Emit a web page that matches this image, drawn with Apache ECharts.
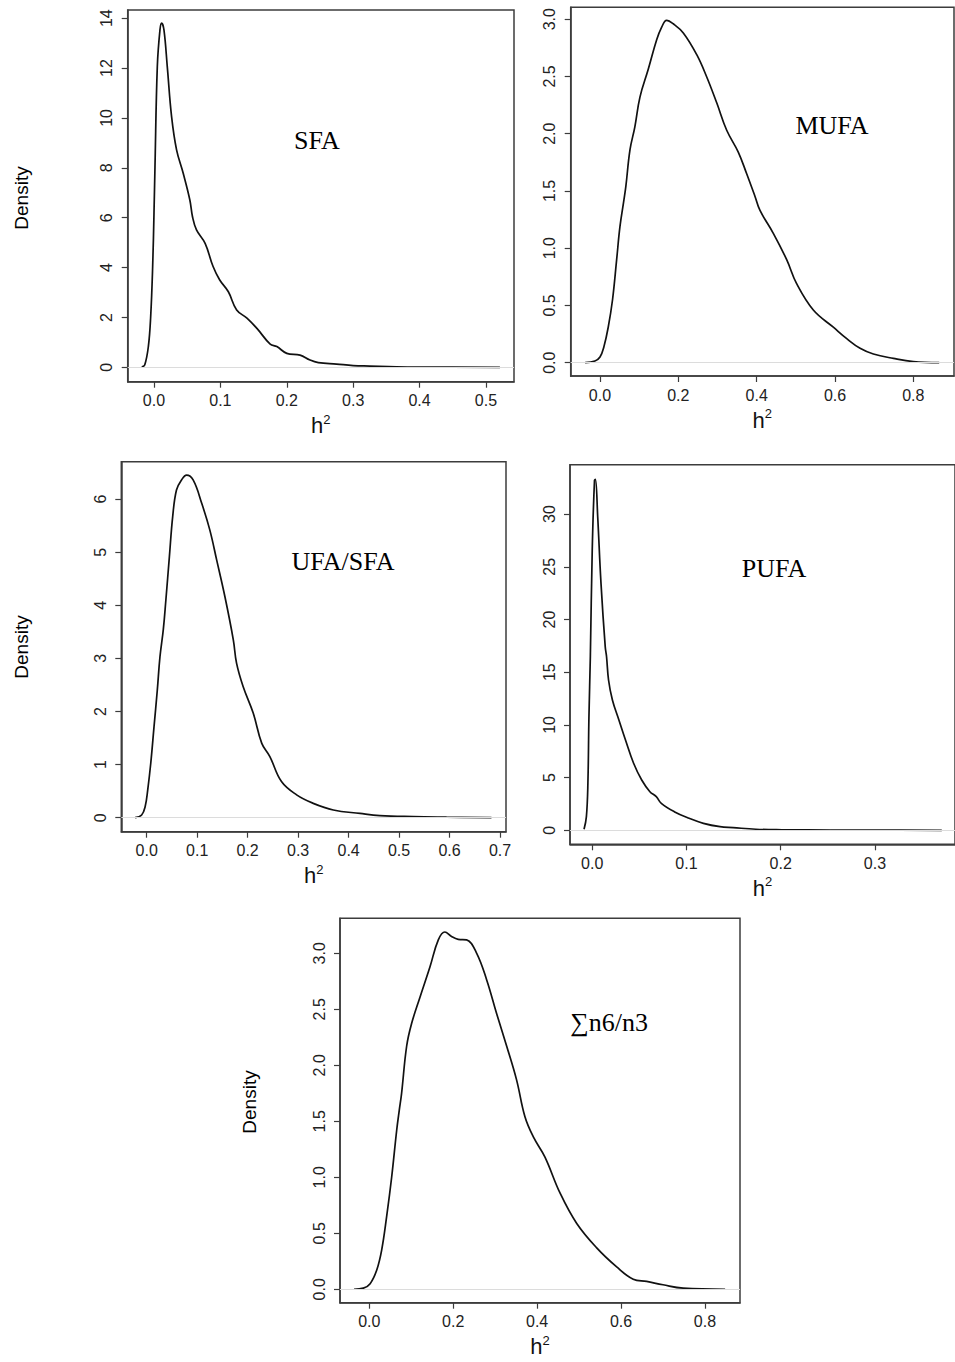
<!DOCTYPE html>
<html>
<head>
<meta charset="utf-8">
<script src="https://cdn.jsdelivr.net/npm/echarts@6/dist/echarts.min.js"></script>
<style>
  html, body { margin: 0; padding: 0; background: #fff; }
  #chart { width: 955px; height: 1362px; }
</style>
</head>
<body>
<div id="chart"></div>
<script>
// posterior densities of h2
const sfaX = [-0.0185, -0.014, -0.0085, -0.005, -0.002, 0.0, 0.0015, 0.005, 0.009, 0.0115, 0.015, 0.020, 0.0265, 0.034, 0.044, 0.054, 0.058, 0.064, 0.077, 0.089, 0.099, 0.112, 0.1245, 0.14, 0.155, 0.175, 0.185, 0.20, 0.22, 0.235, 0.2475, 0.275, 0.30, 0.325, 0.365, 0.415, 0.521]
const sfaY = [0.02, 0.09, 0.83, 2.03, 4.04, 6.18, 8.05, 12.06, 13.53, 13.8, 13.53, 12.06, 10.05, 8.72, 7.78, 6.71, 6.04, 5.51, 4.97, 4.04, 3.5, 3.03, 2.3, 1.97, 1.56, 0.93, 0.83, 0.56, 0.49, 0.29, 0.19, 0.13, 0.07, 0.05, 0.02, 0.01, 0.0]

const mufaX = [-0.038, -0.013, 0.0, 0.010, 0.021, 0.032, 0.0425, 0.051, 0.061, 0.066, 0.0766, 0.089, 0.102, 0.123, 0.1447, 0.1575, 0.170, 0.187, 0.2127, 0.247, 0.272, 0.298, 0.3235, 0.353, 0.3745, 0.396, 0.4085, 0.4425, 0.4766, 0.502, 0.5446, 0.5957, 0.63, 0.664, 0.698, 0.749, 0.80, 0.866]
const mufaY = [0, 0.015, 0.05, 0.14, 0.31, 0.55, 0.90, 1.19, 1.42, 1.54, 1.86, 2.06, 2.32, 2.56, 2.82, 2.93, 2.99, 2.96, 2.88, 2.69, 2.50, 2.27, 2.03, 1.84, 1.65, 1.45, 1.33, 1.13, 0.90, 0.69, 0.46, 0.31, 0.21, 0.126, 0.076, 0.038, 0.01, 0.0]

const ufaX = [-0.023, -0.010, -0.003, 0.002, 0.008, 0.0145, 0.021, 0.0263, 0.033, 0.038, 0.045, 0.0515, 0.059, 0.069, 0.079, 0.092, 0.109, 0.125, 0.1387, 0.155, 0.1716, 0.178, 0.191, 0.211, 0.228, 0.244, 0.267, 0.297, 0.330, 0.3697, 0.4226, 0.462, 0.528, 0.594, 0.683]
const ufaY = [0, 0.05, 0.21, 0.52, 1.02, 1.71, 2.40, 3.03, 3.55, 4.10, 4.92, 5.67, 6.17, 6.36, 6.45, 6.36, 5.92, 5.42, 4.85, 4.16, 3.35, 2.91, 2.47, 1.97, 1.40, 1.15, 0.68, 0.43, 0.27, 0.145, 0.08, 0.04, 0.02, 0.01, 0]

const pufaX = [-0.0087, -0.0062, -0.0046, -0.0035, -0.002, 0.0, 0.0024, 0.0034, 0.0058, 0.0093, 0.0138, 0.0152, 0.0173, 0.0214, 0.0283, 0.0353, 0.0439, 0.0525, 0.0612, 0.068, 0.0733, 0.087, 0.1028, 0.118, 0.1356, 0.1495, 0.1737, 0.2014, 0.253, 0.305, 0.371]
const pufaY = [0.09, 1.29, 4.46, 10.78, 16.5, 26.6, 33.2, 33.3, 29.75, 23.43, 17.4, 16.47, 14.26, 12.36, 10.47, 8.57, 6.36, 4.77, 3.66, 3.19, 2.56, 1.77, 1.14, 0.66, 0.34, 0.25, 0.10, 0.05, 0.02, 0.01, 0.0]

const n6n3X = [-0.0365, -0.014, 0.002, 0.0176, 0.0295, 0.0414, 0.0533, 0.0653, 0.0715, 0.077, 0.089, 0.101, 0.121, 0.1447, 0.1645, 0.180, 0.196, 0.212, 0.232, 0.256, 0.280, 0.3036, 0.3275, 0.351, 0.371, 0.391, 0.4187, 0.4545, 0.494, 0.542, 0.5896, 0.629, 0.661, 0.70, 0.748, 0.848]
const n6n3Y = [0, 0.01, 0.05, 0.17, 0.35, 0.65, 1.0, 1.42, 1.60, 1.75, 2.17, 2.375, 2.61, 2.88, 3.12, 3.19, 3.15, 3.125, 3.12, 3.0, 2.76, 2.46, 2.17, 1.87, 1.54, 1.36, 1.18, 0.86, 0.59, 0.37, 0.20, 0.09, 0.07, 0.04, 0.01, 0]

// tick values
const sfaXTicks = [0, 0.1, 0.2, 0.3, 0.4, 0.5]
const sfaYTicks = [0, 2, 4, 6, 8, 10, 12, 14]
const mufaXTicks = [0, 0.2, 0.4, 0.6, 0.8]
const mufaYTicks = [0, 0.5, 1, 1.5, 2, 2.5, 3]
const ufaXTicks = [0, 0.1, 0.2, 0.3, 0.4, 0.5, 0.6, 0.7]
const ufaYTicks = [0, 1, 2, 3, 4, 5, 6]
const pufaXTicks = [0, 0.1, 0.2, 0.3]
const pufaYTicks = [0, 5, 10, 15, 20, 25, 30]
const n6n3XTicks = [0, 0.2, 0.4, 0.6, 0.8]
const n6n3YTicks = [0, 0.5, 1, 1.5, 2, 2.5, 3]

const titles = ['SFA', 'MUFA', 'UFA/SFA', 'PUFA', '∑n6/n3']

const panels = [
  { xs: sfaX, ys: sfaY, xt: sfaXTicks, yt: sfaYTicks, yd: 0,
    left: 127.7, top: 10, width: 386.3, height: 371.7,
    xr: [-0.0396, 0.5422], yr: [-0.578, 14.33], title: [317, 140] },
  { xs: mufaX, ys: mufaY, xt: mufaXTicks, yt: mufaYTicks, yd: 1,
    left: 570.7, top: 7.3, width: 383.3, height: 368.7,
    xr: [-0.0748, 0.9038], yr: [-0.116, 3.104], title: [832, 125] },
  { xs: ufaX, ys: ufaY, xt: ufaXTicks, yt: ufaYTicks, yd: 0,
    left: 121.3, top: 461.7, width: 384.7, height: 370,
    xr: [-0.0503, 0.7118], yr: [-0.264, 6.704], title: [343, 561] },
  { xs: pufaX, ys: pufaY, xt: pufaXTicks, yt: pufaYTicks, yd: 0,
    left: 570, top: 464.7, width: 393.6, height: 379.6,
    xr: [-0.0236, 0.385], yr: [-1.33, 34.69], title: [774, 568] },
  { xs: n6n3X, ys: n6n3Y, xt: n6n3XTicks, yt: n6n3YTicks, yd: 1,
    left: 340, top: 918.3, width: 400, height: 384.4,
    xr: [-0.0698, 0.8835], yr: [-0.12, 3.3125], title: [609, 1022] }
]

const frame = '#3c3c3c'
const labelFont = 'Liberation Sans'

const grid = [], xAxis = [], yAxis = [], series = []
panels.forEach((p, i) => {
  grid.push({
    left: p.left, top: p.top, width: p.width, height: p.height,
    show: true, borderColor: frame, borderWidth: 1.5, backgroundColor: 'transparent'
  })
  xAxis.push({
    type: 'value', gridIndex: i, min: p.xr[0], max: p.xr[1],
    axisLine: { show: true, onZero: false, lineStyle: { color: frame, width: 1.5 } },
    axisTick: { show: true, length: 6, customValues: p.xt, lineStyle: { color: frame, width: 1.2 } },
    axisLabel: {
      customValues: p.xt, formatter: v => v.toFixed(1),
      fontSize: 16, color: '#222', fontFamily: labelFont, margin: 11
    },
    splitLine: { show: false },
    name: '{b|h}{s|2}', nameLocation: 'middle', nameGap: 31,
    nameTextStyle: {
      rich: {
        b: { fontSize: 22, fontFamily: labelFont, color: '#111', lineHeight: 26 },
        s: { fontSize: 13, fontFamily: labelFont, color: '#111', lineHeight: 15, verticalAlign: 'top' }
      }
    }
  })
  yAxis.push({
    type: 'value', gridIndex: i, min: p.yr[0], max: p.yr[1],
    axisLine: { show: true, onZero: false, lineStyle: { color: frame, width: 1.5 } },
    axisTick: { show: true, length: 6, customValues: p.yt, lineStyle: { color: frame, width: 1.2 } },
    axisLabel: {
      customValues: p.yt, formatter: v => v.toFixed(p.yd), rotate: 90,
      fontSize: 16, color: '#222', fontFamily: labelFont, margin: 13
    },
    splitLine: { show: false }
  })
  series.push({
    type: 'line', xAxisIndex: i, yAxisIndex: i,
    data: p.xs.map((x, j) => [x, p.ys[j]]),
    symbol: 'none', smooth: 0.4,
    lineStyle: { color: '#111', width: 1.7 },
    markLine: {
      silent: true, symbol: ['none', 'none'], label: { show: false },
      lineStyle: { color: '#dcdcdc', width: 1, type: 'solid' },
      data: [{ yAxis: 0 }]
    }
  })
})

const graphic = []
titles.forEach((t, i) => {
  graphic.push({
    type: 'text', x: panels[i].title[0], y: panels[i].title[1],
    style: {
      text: t, font: '26px "Liberation Serif", "DejaVu Serif"', fill: '#000',
      align: 'center', verticalAlign: 'middle', textAlign: 'center', textVerticalAlign: 'middle'
    }
  })
})
// "Density" y labels, only on the left hand plots
;[[21, 198], [21, 647], [249, 1102]].forEach(([x, y]) => {
  graphic.push({
    type: 'text', x: x, y: y, rotation: Math.PI / 2,
    style: {
      text: 'Density', font: '19px "Liberation Sans"', fill: '#000',
      align: 'center', verticalAlign: 'middle', textAlign: 'center', textVerticalAlign: 'middle'
    }
  })
})

const chart = echarts.init(document.getElementById('chart'), null, { renderer: 'svg' })
chart.setOption({
  animation: false,
  backgroundColor: '#fff',
  grid, xAxis, yAxis, series, graphic
})
</script>
</body>
</html>
